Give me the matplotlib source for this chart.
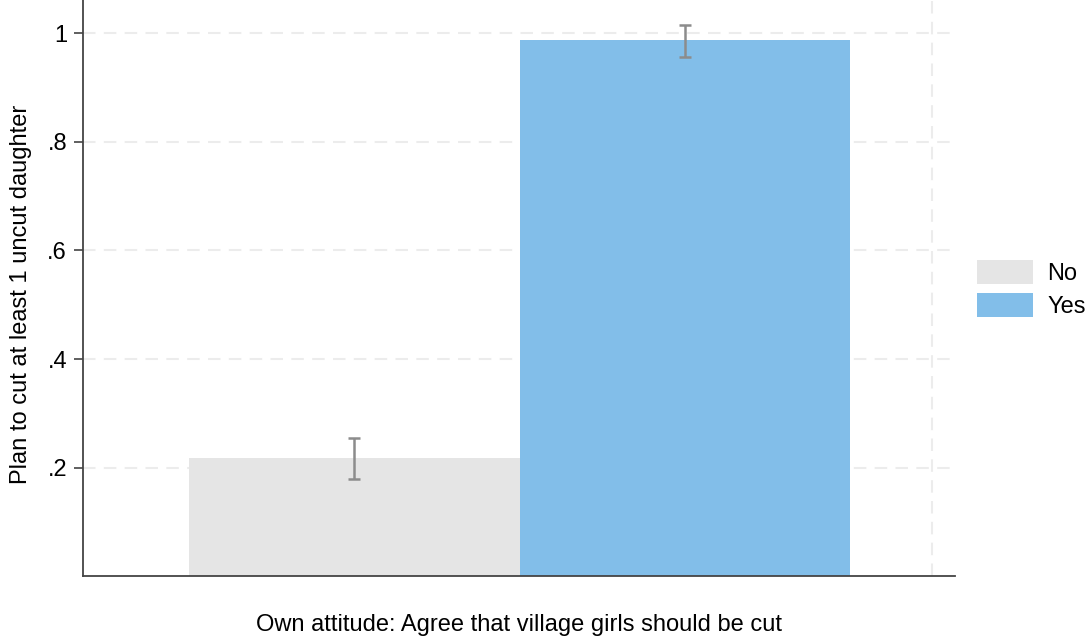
import numpy as np
import matplotlib
matplotlib.use("Agg")
import matplotlib.pyplot as plt
from matplotlib.patches import Patch

plt.rcParams["font.family"] = ["Liberation Sans", "DejaVu Sans"]

groups = ["No", "Yes"]
means = [0.218, 0.987]
ci_low = [0.179, 0.956]
ci_high = [0.255, 1.015]
colors = ["#e5e5e5", "#82bee9"]
yticks = [0.2, 0.4, 0.6, 0.8, 1.0]
ytick_labels = [".2", ".4", ".6", ".8", "1"]

fig = plt.figure(figsize=(10.89, 6.37), dpi=100)
ax = fig.add_axes([83 / 1089, 1 - 576.4 / 637, (955 - 83) / 1089, 576.4 / 637])

x = np.arange(len(groups))
ax.bar(x, means, width=1.0, color=colors, zorder=2)
err = [np.array(means) - np.array(ci_low), np.array(ci_high) - np.array(means)]
ax.errorbar(x, means, yerr=err, fmt="none", ecolor="#8c8c8c",
            elinewidth=1.8, capsize=4.5, capthick=1.8, zorder=3)

ax.set_xlim(-0.821, 1.817)
ax.set_ylim(0, 1.061)
ax.set_yticks(yticks)
ax.set_yticklabels(ytick_labels)
ax.set_xticks([])
ax.tick_params(axis="y", labelsize=17, length=6.5, width=1.2, color="#444444", pad=5)

# dashed grid, drawn under the bars
for y in yticks:
    ax.axhline(y, color="#ececec", lw=1.5, ls=(0, (6, 4)), zorder=1)
ax.axvline(1.747, color="#ececec", lw=1.5, ls=(0, (6, 4)), zorder=1)

for side in ["top", "right"]:
    ax.spines[side].set_visible(False)
for side in ["left", "bottom"]:
    ax.spines[side].set_color("#444444")
    ax.spines[side].set_linewidth(1.3)

ax.set_ylabel("Plan to cut at least 1 uncut daughter", fontsize=17)
ax.yaxis.set_label_coords(-0.059, 0.49)
ax.set_xlabel("Own attitude: Agree that village girls should be cut", fontsize=17)
ax.xaxis.set_label_coords(0.5, -0.066)

handles = [Patch(facecolor=c, edgecolor="none") for c in colors]
fig.legend(handles, groups, loc="center left", bbox_to_anchor=(956 / 1089, 1 - 289 / 637),
           frameon=False, fontsize=17, handlelength=2.38, handleheight=1.18,
           handletextpad=0.6, labelspacing=0.35)

fig.savefig("out.png", dpi=100)
